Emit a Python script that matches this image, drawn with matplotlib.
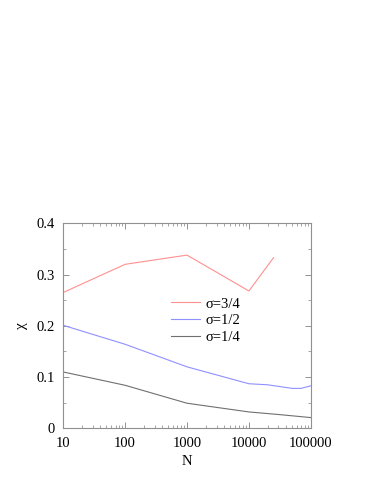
import matplotlib
matplotlib.use("Agg")
import matplotlib.pyplot as plt
from matplotlib.ticker import FixedLocator, FixedFormatter, LogLocator, NullFormatter, MultipleLocator

plt.rcParams['font.family'] = ['Liberation Serif', 'DejaVu Serif']

n_34 = [10, 100, 1000, 10000, 25000]
chi_34 = [0.265, 0.320, 0.338, 0.268, 0.333]

n_12 = [10, 100, 1000, 10000, 20000, 50000, 70000, 100000]
chi_12 = [0.201, 0.164, 0.120, 0.087, 0.085, 0.078, 0.078, 0.083]

n_14 = [10, 100, 1000, 10000, 30000, 100000]
chi_14 = [0.110, 0.084, 0.049, 0.032, 0.027, 0.021]

xticks = [10, 100, 1000, 10000, 100000]
xticklabels = ["10", "100", "1000", "10000", "100000"]
yticks = [0, 0.1, 0.2, 0.3, 0.4]
yticklabels = ["0", "0.1", "0.2", "0.3", "0.4"]

fig = plt.figure(figsize=(3.74, 4.84), dpi=100)
ax = fig.add_axes([0.169, 0.115, 0.662, 0.4236])

ax.plot(n_34, chi_34, color="#ff9090", lw=0.8, label="σ=3/4")
ax.plot(n_12, chi_12, color="#9090ff", lw=0.8, label="σ=1/2")
ax.plot(n_14, chi_14, color="#707070", lw=0.8, label="σ=1/4")

ax.set_xscale("log")
ax.set_xlim(10, 100000)
ax.set_ylim(0, 0.4)
ax.xaxis.set_major_locator(FixedLocator(xticks))
ax.xaxis.set_major_formatter(FixedFormatter(xticklabels))
ax.xaxis.set_minor_locator(LogLocator(base=10, subs=range(2, 10)))
ax.xaxis.set_minor_formatter(NullFormatter())
ax.yaxis.set_major_locator(FixedLocator(yticks))
ax.yaxis.set_major_formatter(FixedFormatter(yticklabels))
ax.yaxis.set_minor_locator(MultipleLocator(0.05))

ax.tick_params(which="both", direction="in", top=True, right=True, color="#808080", labelsize=10.5)
ax.tick_params(which="major", length=4, width=0.6, pad=6)
ax.tick_params(which="minor", length=2, width=0.5)
for s in ax.spines.values():
    s.set_color("#909090")
    s.set_linewidth(0.8)

ax.set_xlabel("N", fontsize=10.5, labelpad=4)
ax.set_ylabel("χ", fontsize=11, labelpad=6)

ax.legend(loc="upper left", bbox_to_anchor=(0.435, 0.639), frameon=False, fontsize=10.5,
          handlelength=2.0, handletextpad=0.35, labelspacing=0.25, borderpad=0,
          borderaxespad=0)

fig.savefig("out.png", dpi=100)
